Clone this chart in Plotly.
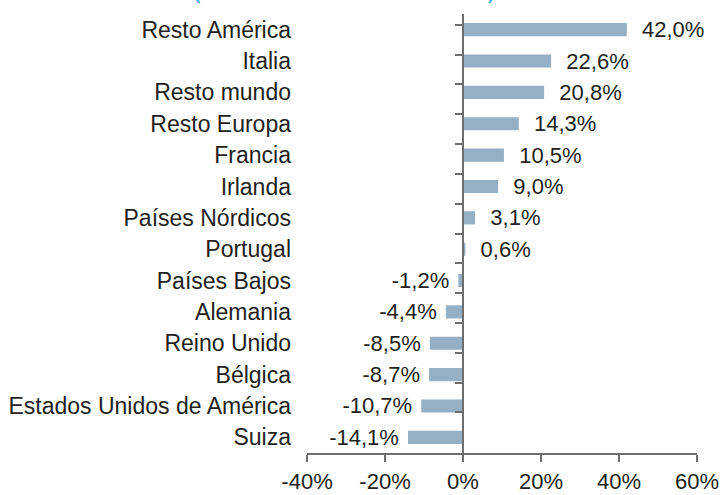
import plotly.graph_objects as go

# Categories listed from top to bottom
categories = [
    "Resto América", "Italia", "Resto mundo", "Resto Europa", "Francia",
    "Irlanda", "Países Nórdicos", "Portugal", "Países Bajos", "Alemania",
    "Reino Unido", "Bélgica", "Estados Unidos de América", "Suiza",
]
values = [42.0, 22.6, 20.8, 14.3, 10.5, 9.0, 3.1, 0.6,
          -1.2, -4.4, -8.5, -8.7, -10.7, -14.1]
x_ticks = [-40, -20, 0, 20, 40, 60]
x_tick_labels = ["-40%", "-20%", "0%", "20%", "40%", "60%"]
title_text = "(Tasa de variación anual en %)"

FONT = "Liberation Sans, Arial, Helvetica, sans-serif"
TEXT_COLOR = "#231F20"
AXIS_COLOR = "#6E6E6E"
BAR_COLOR = "#95AFC5"
NB = "\u00a0"

labels = []
for v in values:
    s = f"{v:.1f}%".replace(".", ",")
    labels.append(NB + NB + s if v >= 0 else s + NB)

fig = go.Figure()
fig.add_trace(go.Bar(
    x=values, y=categories, orientation="h",
    marker=dict(color=BAR_COLOR, line=dict(width=0)),
    text=labels, textposition="outside", constraintext="none",
    cliponaxis=False,
    textfont=dict(family=FONT, size=22, color=TEXT_COLOR),
    hoverinfo="skip", showlegend=False,
))
# carrier trace for the vertical axis drawn at zero
fig.add_trace(go.Scatter(
    x=[0] * len(categories), y=categories, yaxis="y2", mode="markers",
    marker=dict(opacity=0), hoverinfo="skip", showlegend=False,
))

fig.add_annotation(
    text=title_text, xref="paper", yref="paper", x=0.096, y=1.0205,
    xanchor="center", yanchor="bottom", showarrow=False,
    font=dict(family=FONT, size=22, color="#1E9BE0"),
)

fig.update_layout(
    width=720, height=495,
    margin=dict(l=307, r=23, t=14, b=42, autoexpand=False),
    paper_bgcolor="white", plot_bgcolor="white",
    bargap=0.58,
    font=dict(family=FONT, size=22, color=TEXT_COLOR),
    xaxis=dict(
        range=[-40, 60], tickvals=x_ticks, ticktext=x_tick_labels,
        showgrid=False, zeroline=False, automargin=False,
        showline=True, linecolor=AXIS_COLOR, linewidth=1.5,
        ticks="outside", ticklen=7, tickwidth=1.5, tickcolor=AXIS_COLOR,
        ticklabelstandoff=1,
        tickfont=dict(family=FONT, size=22, color=TEXT_COLOR),
    ),
    yaxis=dict(
        type="category", categoryorder="array", categoryarray=categories,
        autorange="reversed", showgrid=False, zeroline=False,
        automargin=False,
        showline=False, ticks="", ticklabelstandoff=15,
        tickfont=dict(family=FONT, size=23, color=TEXT_COLOR),
    ),
    yaxis2=dict(
        type="category", categoryorder="array", categoryarray=categories,
        autorange="reversed", overlaying="y", anchor="free", position=0.4,
        side="left", showgrid=False, zeroline=False, showticklabels=False,
        automargin=False,
        showline=True, linecolor=AXIS_COLOR, linewidth=1.5,
        ticks="outside", ticklen=7, tickwidth=1.5, tickcolor=AXIS_COLOR,
        tickson="boundaries",
    ),
)

fig.write_html("out.html")
